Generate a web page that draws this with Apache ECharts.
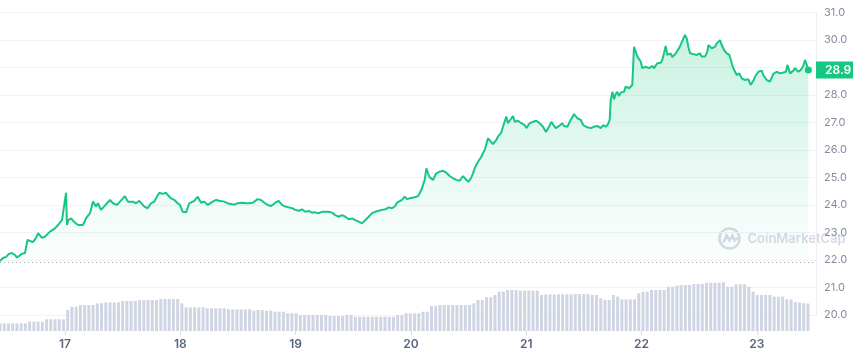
<!DOCTYPE html>
<html lang="en">
<head>
  <meta charset="UTF-8">
  <title>Price chart</title>
  <script src="https://cdn.jsdelivr.net/npm/echarts/dist/echarts.min.js"></script>
</head>
<body style="margin:0;background:#fff;">
<div id="main" style="width: 853px;height:354px;"></div>
<script type="text/javascript">

// time in decimal days of the month, price in USD
const priceTimes = [
  16.436,16.462,16.488,16.514,16.540,16.566,16.584,16.601,16.627,16.653,16.666,
  16.675,16.697,16.722,16.749,16.766,16.801,16.827,16.870,16.913,16.939,16.974,16.987,17.009,17.017,17.030,17.052,17.078,17.113,17.156,17.182,17.217,17.243,17.269,17.286,17.312,17.338,17.390,17.416,17.451,17.477,17.520,17.546,17.590,
  17.616,17.644,17.688,17.717,17.746,17.761,17.775,17.789,17.818,17.847,17.876,17.891,17.919,17.948,17.977,17.997,18.021,18.035,18.050,18.078,18.093,18.121,18.151,18.165,18.180,18.208,18.238,18.252,18.281,18.310,18.338,18.353,18.382,18.411,18.440,18.468,18.498,18.512,18.541,18.570,18.599,18.628,18.671,18.700,18.729,18.758,18.787,
  18.824,18.853,18.882,18.911,18.940,18.969,18.997,19.027,19.056,19.084,19.114,19.142,19.171,19.200,19.229,19.258,19.287,19.316,19.344,19.374,19.402,19.431,19.461,19.489,19.518,19.547,19.576,19.605,19.634,19.663,19.691,19.721,19.749,19.778,19.807,19.836,19.865,19.880,19.894,19.923,19.946,19.966,
  19.990,20.003,20.033,20.062,20.090,20.105,20.120,20.134,20.148,20.163,20.177,20.192,20.206,20.220,20.250,20.279,20.307,20.322,20.336,20.365,20.394,20.423,20.452,20.481,20.501,20.524,20.539,20.553,20.567,20.582,20.597,20.611,20.625,20.640,20.669,20.683,20.712,20.741,20.755,20.770,20.784,20.799,20.827,20.842,20.857,20.885,20.900,20.929,20.958,20.987,21.001,21.030,21.059,21.088,21.117,21.146,
  21.172,21.198,21.218,21.241,21.256,21.285,21.313,21.328,21.357,21.386,21.415,21.443,21.473,21.495,21.530,21.560,21.588,21.617,21.646,21.669,21.690,21.710,21.724,21.733,21.747,21.762,21.776,21.790,21.805,21.820,21.848,21.863,21.892,21.920,21.935,21.950,21.964,21.993,22.007,22.036,22.065,22.094,22.108,22.137,22.166,22.180,22.195,22.210,22.224,22.253,22.267,22.297,22.325,22.345,
  22.357,22.377,22.392,22.406,22.421,22.450,22.479,22.507,22.522,22.536,22.551,22.571,22.580,22.609,22.638,22.652,22.681,22.696,22.716,22.739,22.762,22.783,22.796,22.811,22.826,22.848,22.869,22.898,22.926,22.947,22.970,22.984,23.013,23.043,23.056,23.086,23.114,23.143,23.173,23.201,23.230,23.253,23.265,23.288,23.317,23.332,23.360,23.381,23.403,23.418,23.433,23.447
];
const priceValues = [
  21.96,22.07,22.11,22.22,22.25,22.18,22.09,22.16,22.22,22.25,22.29,
  22.73,22.69,22.65,22.80,22.97,22.80,22.85,23.03,23.15,23.27,23.45,23.48,24.44,23.27,23.45,23.51,23.39,23.27,23.27,23.51,23.70,24.12,23.94,24.06,23.82,23.94,24.18,24.06,24.00,24.12,24.32,24.12,24.12,
  24.06,24.15,23.94,23.88,24.06,24.00,24.12,24.24,24.44,24.40,24.44,24.36,24.24,24.18,24.06,24.00,23.75,23.82,23.73,24.06,24.12,24.15,24.30,24.24,24.08,24.12,24.00,23.94,24.12,24.18,24.15,24.21,24.12,24.06,24.03,24.01,24.06,24.00,24.08,24.06,24.06,24.08,24.21,24.18,24.08,24.00,23.96,
  24.08,24.15,24.00,23.94,23.91,23.88,23.82,23.79,23.84,23.75,23.78,23.72,23.73,23.70,23.75,23.75,23.75,23.72,23.63,23.57,23.63,23.57,23.48,23.51,23.45,23.39,23.33,23.45,23.57,23.70,23.75,23.79,23.82,23.84,23.91,23.88,23.96,24.08,24.03,24.18,24.30,24.21,
  24.24,24.18,24.28,24.32,24.54,24.60,24.91,25.33,25.15,25.00,25.05,24.91,24.88,25.15,25.21,25.24,25.17,25.21,25.05,24.97,24.91,24.88,25.05,24.91,24.84,25.00,25.15,25.33,25.45,25.57,25.63,25.75,25.88,26.00,26.42,26.36,26.21,26.36,26.48,26.42,26.63,26.84,27.21,26.97,26.97,27.23,27.02,27.06,26.97,26.90,26.79,26.97,27.02,27.06,26.97,26.84,
  26.65,26.84,27.02,26.87,26.79,26.87,26.97,26.87,26.84,27.09,27.30,27.15,27.09,26.90,26.82,26.79,26.84,26.87,26.79,26.90,26.84,26.94,27.09,27.81,28.11,27.84,28.03,28.11,27.96,28.08,28.11,28.30,28.24,28.36,29.75,29.75,29.39,29.21,28.97,29.02,28.97,29.05,28.97,29.15,29.17,29.27,29.51,29.78,29.45,29.51,29.37,29.51,29.69,29.87,
  29.93,30.18,30.06,29.75,29.51,29.48,29.45,29.51,29.39,29.45,29.39,29.57,29.81,29.69,29.75,29.87,29.99,29.81,29.63,29.51,29.45,29.15,28.97,28.90,28.72,28.78,28.60,28.54,28.57,28.36,28.51,28.66,28.84,28.88,28.72,28.54,28.48,28.76,28.84,28.78,28.81,28.84,29.09,28.78,28.88,28.97,28.84,28.90,29.05,29.27,29.09,28.90
];

// volume bars (millions), one bar per period starting at volStart
const volStart = 16.4363;
const volStep = 0.03669;
const volumeValues = [
  7.7,7.7,7.7,7.7,7.7,7.7,7.7, 9.3,9.3,9.3,9.3, 11.7,11.7,11.7,11.7,11.7,
  21,24.3,24.3,26,26,26,26,27.7,27.7,28.7,28.7,28.7,28.7,30,30,30,30,
  31,31,31,31,31,32,32,32,32,32,27.7,
  23.7,23.7,23.7,23.7,23.7,22.7,22.7,22.7,22.7,22.7,21.7,21.7,21.7,21.7,21.7,21.7,
  20.3,21,21,20.3,20.3,19.3,19.3,19.3,17.7,17.7,17.7,
  16,16,16,16,16,16,16,15,15,15,15,16,16,
  14.3,14.3,14.3,14.3,14.3,14.3,14.3,14.3,14.3,14.3,16,16,
  17.7,17.7,17.7,17.7,19.3,19.3,25,25,26,26,26,26,26,26,26,26,27.7,
  31,31,33.7,33.7,36,39.3,39.3,41,41,41,40.3,40.3,40.3,40.3,40.3,36,
  36.7,36.7,36.7,36.7,36.7,36.7,36.7,37,37,37,37,36,36,32.7,31,31,36,34.3,
  31.7,31.7,31.7,31.7,37.7,39.3,39.3,41,41,41,41,44.3,44.3,45.5,46,46,46,
  47,47,47,48.3,48.3,48.3,48.3,49,44.3,44.3,46.7,46.7,46.7,44.3,39.3,
  36,36,36,36,34.3,34.3,34.3,31.7,31.7,29,28.5,28,27.5
];

const dayLabels = [17, 18, 19, 20, 21, 22, 23];
const openPrice = 21.92;

const X_MIN = 16.4363;
const X_MAX = 23.5134;

const priceData = priceTimes.map((t, i) => [t, priceValues[i]]);
const volumeData = volumeValues.map((v, i) => [volStart + i * volStep, v]);
const lastT = priceTimes[priceTimes.length - 1];
const lastV = priceValues[priceValues.length - 1];

const green = '#16c784';
const markColor = 'rgba(160,168,196,0.42)';

const myChart = echarts.init(document.getElementById('main'));
const option = {
  animation: false,
  textStyle: {fontFamily: 'Inter, Roboto, sans-serif'},
  grid: [
    {left: 0, right: 37, top: 12.3, bottom: 39},
    {left: 0, right: 37, top: 281, bottom: 23}
  ],
  xAxis: [
    {type: 'value', gridIndex: 0, min: X_MIN, max: X_MAX, show: false},
    {
      type: 'value', gridIndex: 1, min: X_MIN, max: X_MAX,
      axisLine: {show: false},
      splitLine: {show: false},
      axisTick: {show: true, customValues: dayLabels, length: 4, lineStyle: {color: '#d9dde6'}},
      axisLabel: {
        customValues: dayLabels,
        formatter: v => String(Math.round(v)),
        color: '#58667e', fontSize: 12, fontWeight: 600, margin: 7
      }
    }
  ],
  yAxis: [
    {
      type: 'value', gridIndex: 0, position: 'right',
      min: 20, max: 31, interval: 1,
      axisLine: {show: true, lineStyle: {color: '#eceef2'}},
      axisTick: {show: false},
      splitLine: {lineStyle: {color: '#f1f3f6'}},
      axisLabel: {formatter: v => v.toFixed(1), color: '#858ca2', fontSize: 11, margin: 8}
    },
    {type: 'value', gridIndex: 1, min: 0, max: 50, show: false}
  ],
  graphic: [
    {
      type: 'group', left: 717, top: 226, silent: true, z: 1,
      children: [
        {type: 'circle', shape: {cx: 11, cy: 11, r: 10}, style: {fill: 'none', stroke: markColor, lineWidth: 2.5}},
        {type: 'polyline', shape: {points: [[5, 15], [8, 8], [11, 13], [14, 8], [16, 13], [19, 10]]}, style: {fill: 'none', stroke: markColor, lineWidth: 2.5}},
        {type: 'text', style: {text: 'CoinMarketCap', x: 29, y: 12, verticalAlign: 'middle', fill: markColor, font: '600 13px Inter'}}
      ]
    }
  ],
  series: [
    {
      name: 'Volume',
      type: 'bar',
      xAxisIndex: 1, yAxisIndex: 1,
      data: volumeData,
      barWidth: 3,
      itemStyle: {color: '#cfd5e3'},
      silent: true
    },
    {
      name: 'Price',
      type: 'line',
      xAxisIndex: 0, yAxisIndex: 0,
      data: priceData,
      symbol: 'none',
      lineStyle: {color: green, width: 2},
      areaStyle: {
        origin: openPrice,
        color: {
          type: 'linear', x: 0, y: 0, x2: 0, y2: 1,
          colorStops: [{offset: 0, color: 'rgba(22,199,132,0.32)'}, {offset: 1, color: 'rgba(22,199,132,0.02)'}]
        }
      },
      markPoint: {
        silent: true,
        data: [{coord: [lastT, lastV], symbol: 'circle', symbolSize: 7, itemStyle: {color: green}, label: {show: false}}]
      },
      markLine: {
        silent: true,
        symbol: ['none', 'none'],
        data: [
          {yAxis: openPrice, lineStyle: {type: [1, 3], color: '#a3a9ba', width: 1}, label: {show: false}},
          {
            yAxis: lastV, lineStyle: {color: 'rgba(0,0,0,0)', width: 0},
            label: {
              show: true, position: 'end', distance: 0,
              formatter: lastV.toFixed(1),
              backgroundColor: green, color: '#fff',
              padding: [3, 9, 2, 9], fontSize: 12, fontWeight: 600
            }
          }
        ]
      }
    }
  ]
};
myChart.setOption(option);
</script>
</body>
</html>
